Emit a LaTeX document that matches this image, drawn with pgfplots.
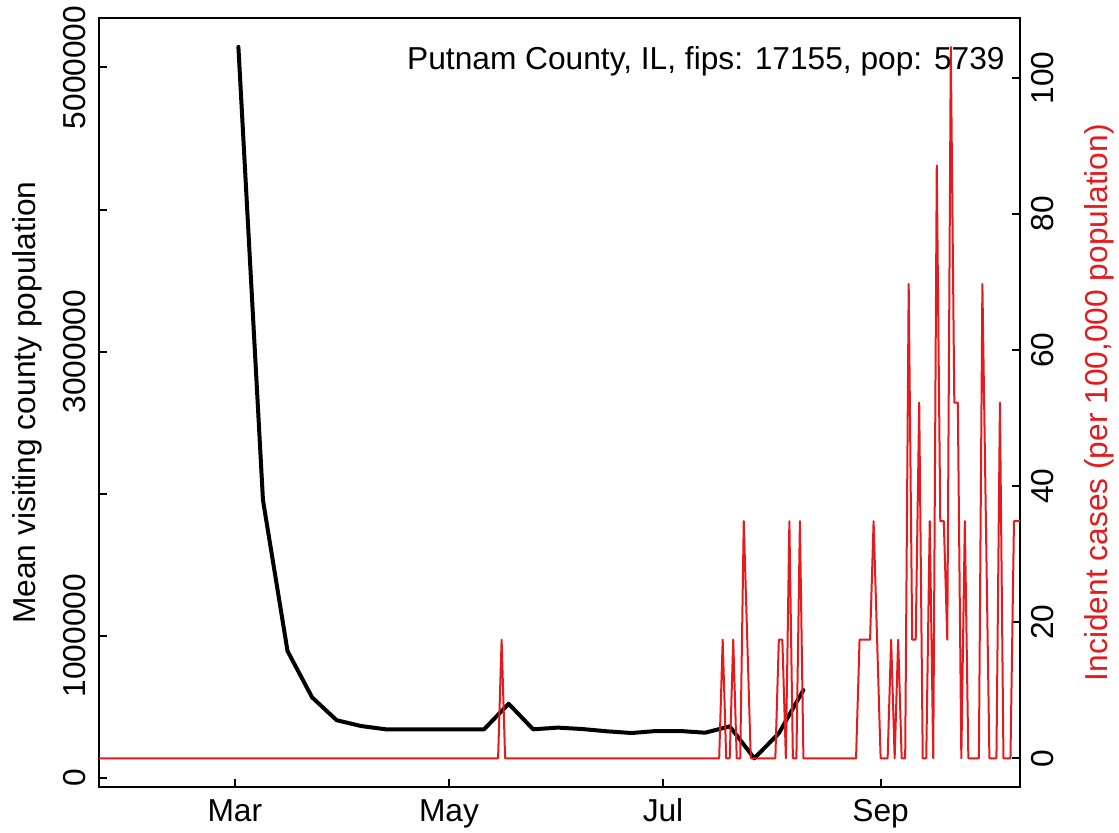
\documentclass[border=0pt]{standalone}
\usepackage{fontspec}
\setmainfont{Liberation Sans}
\usepackage{pgfplots}
\pgfplotsset{compat=1.18}
\definecolor{rred}{HTML}{E41A1C}
\newcommand{\rfont}{\fontsize{15.85}{19}\selectfont}
\begin{document}
\begin{tikzpicture}
\useasboundingbox (0,0) rectangle (559.5pt,416pt);
\pgfplotsset{
  common/.style={
    scale only axis, width=460.5pt, height=384.1pt,
    at={(49.5pt,22.65pt)}, anchor=south west,
    xmin=22.28, xmax=284.72,
    tick align=inside, major tick length=4pt,
    every tick/.style={black, line width=1pt},
    tick label style={font=\rfont},
    axis line style={line width=1pt},
  }
}
\begin{axis}[common,
  ymin=-63000, ymax=5345000,
  xtick={61,122,183,245}, xticklabels={Mar,May,Jul,Sep},
  xtick pos=bottom, ytick pos=left,
  ytick={0,1000000,2000000,3000000,4000000,5000000},
  yticklabels={0,1000000,,3000000,,5000000},
  scaled y ticks=false,
  xticklabel style={anchor=base},
  xticklabel shift=17.15pt,
  yticklabel style={rotate=90, anchor=base},
  yticklabel shift=6.75pt,
  every axis y label/.style={at={(axis description cs:-0.0684,0.5)}, rotate=90, anchor=base, font=\rfont},
  ylabel={Mean visiting county population},
]
\addplot[black, line width=2pt, line join=round, line cap=round] coordinates {
(62,5145000) (69,1955000) (76,892000) (83,566000) (90,405000) (97,364000)
(104,341000) (111,341000) (118,341000) (125,341000) (132,341000)
(139,521000) (146,341000) (153,353000) (160,343000) (167,327000)
(174,315000) (181,329000) (188,329000) (195,317000) (202,362000)
(209,137000) (216,313000) (223,617000)
};
\node[anchor=base east, font=\rfont, inner sep=0pt] at (axis description cs:0.9837,0.9330) {Putnam County, IL, fips: 17155, pop: 5739};
\end{axis}
\begin{axis}[common,
  ymin=-4.182, ymax=108.73,
  axis x line=none, axis y line*=right,
  ytick={0,20,40,60,80,100}, yticklabels={0,20,40,60,80,100},
  yticklabel style={rotate=90, anchor=base},
  yticklabel shift=16.7pt,
  every axis y label/.style={at={(axis description cs:1.0955,0.5)}, rotate=90, anchor=base, text=rred, font=\rfont},
  ylabel={Incident cases (per 100,000 population)},
]
\addplot[rred, line width=1pt, line join=round] coordinates {
(22,0) (136,0) (137,17.425) (138,0) (199,0) (200,17.425) (201,0) (202,0)
(203,17.425) (204,0) (205,0) (206,34.849) (207,17.425) (208,0) (215,0)
(216,17.425) (217,17.425) (218,0) (219,34.849) (220,0) (221,0) (222,34.849)
(223,0) (238,0) (239,17.425) (240,17.425) (241,17.425) (242,17.425)
(243,34.849) (244,17.425) (245,0) (246,0) (247,0) (248,17.425) (249,0)
(250,17.425) (251,0) (252,0) (253,69.699) (254,17.425) (255,17.425)
(256,52.274) (257,0) (258,0) (259,34.849) (260,0) (261,87.124) (262,34.849)
(263,34.849) (264,17.425) (265,104.548) (266,52.274) (267,52.274) (268,0)
(269,34.849) (270,0) (271,0) (272,0) (273,0) (274,69.699) (275,34.849)
(276,0) (277,0) (278,0) (279,52.274) (280,0) (281,0) (282,0) (283,34.849)
(284,34.849) (285,34.849)
};
\end{axis}
\end{tikzpicture}
\end{document}
